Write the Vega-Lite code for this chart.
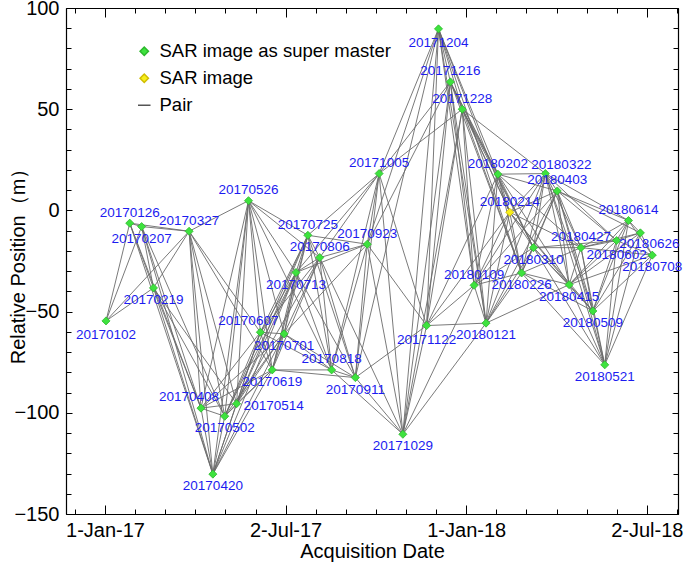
{
  "$schema": "https://vega.github.io/schema/vega-lite/v6.json",
  "autosize": {"type": "none"},
  "padding": {"left": 66, "top": 8, "right": 7, "bottom": 52},
  "width": 612,
  "height": 506,
  "config": {
    "view": {"stroke": null},
    "font": "Liberation Sans",
    "axis": {"grid": false, "domainColor": "black", "domainWidth": 1.2, "tickColor": "black", "tickWidth": 1, "labelColor": "black", "titleColor": "black", "labelFont": "Liberation Sans", "titleFont": "Liberation Sans", "titleFontWeight": "normal"},
    "legend": {"labelLimit": 0}
  },
  "datasets": {
    "pts": [
      {"id": "20170102", "date": "2017-01-02", "pos": -54.6, "kind": "SAR image as super master"},
      {"id": "20170126", "date": "2017-01-26", "pos": -6.3, "kind": "SAR image as super master"},
      {"id": "20170207", "date": "2017-02-07", "pos": -8.0, "kind": "SAR image as super master"},
      {"id": "20170219", "date": "2017-02-19", "pos": -38.3, "kind": "SAR image as super master"},
      {"id": "20170327", "date": "2017-03-27", "pos": -10.3, "kind": "SAR image as super master"},
      {"id": "20170408", "date": "2017-04-08", "pos": -97.7, "kind": "SAR image as super master"},
      {"id": "20170420", "date": "2017-04-20", "pos": -130.3, "kind": "SAR image as super master"},
      {"id": "20170502", "date": "2017-05-02", "pos": -101.7, "kind": "SAR image as super master"},
      {"id": "20170514", "date": "2017-05-14", "pos": -95.5, "kind": "SAR image as super master"},
      {"id": "20170526", "date": "2017-05-26", "pos": 4.8, "kind": "SAR image as super master"},
      {"id": "20170607", "date": "2017-06-07", "pos": -60.2, "kind": "SAR image as super master"},
      {"id": "20170619", "date": "2017-06-19", "pos": -78.8, "kind": "SAR image as super master"},
      {"id": "20170701", "date": "2017-07-01", "pos": -61.0, "kind": "SAR image as super master"},
      {"id": "20170713", "date": "2017-07-13", "pos": -30.7, "kind": "SAR image as super master"},
      {"id": "20170725", "date": "2017-07-25", "pos": -12.3, "kind": "SAR image as super master"},
      {"id": "20170806", "date": "2017-08-06", "pos": -23.3, "kind": "SAR image as super master"},
      {"id": "20170818", "date": "2017-08-18", "pos": -78.8, "kind": "SAR image as super master"},
      {"id": "20170911", "date": "2017-09-11", "pos": -82.6, "kind": "SAR image as super master"},
      {"id": "20170923", "date": "2017-09-23", "pos": -16.7, "kind": "SAR image as super master"},
      {"id": "20171005", "date": "2017-10-05", "pos": 18.2, "kind": "SAR image as super master"},
      {"id": "20171029", "date": "2017-10-29", "pos": -110.6, "kind": "SAR image as super master"},
      {"id": "20171122", "date": "2017-11-22", "pos": -56.9, "kind": "SAR image as super master"},
      {"id": "20171204", "date": "2017-12-04", "pos": 89.7, "kind": "SAR image as super master"},
      {"id": "20171216", "date": "2017-12-16", "pos": 63.5, "kind": "SAR image as super master"},
      {"id": "20171228", "date": "2017-12-28", "pos": 50.0, "kind": "SAR image as super master"},
      {"id": "20180109", "date": "2018-01-09", "pos": -37.0, "kind": "SAR image as super master"},
      {"id": "20180121", "date": "2018-01-21", "pos": -55.7, "kind": "SAR image as super master"},
      {"id": "20180202", "date": "2018-02-02", "pos": 17.9, "kind": "SAR image as super master"},
      {"id": "20180214", "date": "2018-02-14", "pos": -0.9, "kind": "SAR image"},
      {"id": "20180226", "date": "2018-02-26", "pos": -30.9, "kind": "SAR image as super master"},
      {"id": "20180310", "date": "2018-03-10", "pos": -18.4, "kind": "SAR image as super master"},
      {"id": "20180322", "date": "2018-03-22", "pos": 18.2, "kind": "SAR image as super master"},
      {"id": "20180403", "date": "2018-04-03", "pos": 9.6, "kind": "SAR image as super master"},
      {"id": "20180415", "date": "2018-04-15", "pos": -36.7, "kind": "SAR image as super master"},
      {"id": "20180427", "date": "2018-04-27", "pos": -18.4, "kind": "SAR image as super master"},
      {"id": "20180509", "date": "2018-05-09", "pos": -49.7, "kind": "SAR image as super master"},
      {"id": "20180521", "date": "2018-05-21", "pos": -76.3, "kind": "SAR image as super master"},
      {"id": "20180602", "date": "2018-06-02", "pos": -14.9, "kind": "SAR image as super master"},
      {"id": "20180614", "date": "2018-06-14", "pos": -5.0, "kind": "SAR image as super master"},
      {"id": "20180626", "date": "2018-06-26", "pos": -11.1, "kind": "SAR image as super master"},
      {"id": "20180708", "date": "2018-07-08", "pos": -22.1, "kind": "SAR image as super master"}
    ],
    "pairs": [
      {"d1": "2017-01-02", "p1": -54.6, "d2": "2017-01-26", "p2": -6.3},
      {"d1": "2017-01-02", "p1": -54.6, "d2": "2017-02-07", "p2": -8.0},
      {"d1": "2017-01-02", "p1": -54.6, "d2": "2017-02-19", "p2": -38.3},
      {"d1": "2017-01-02", "p1": -54.6, "d2": "2017-03-27", "p2": -10.3},
      {"d1": "2017-01-26", "p1": -6.3, "d2": "2017-02-07", "p2": -8.0},
      {"d1": "2017-01-26", "p1": -6.3, "d2": "2017-02-19", "p2": -38.3},
      {"d1": "2017-01-26", "p1": -6.3, "d2": "2017-03-27", "p2": -10.3},
      {"d1": "2017-01-26", "p1": -6.3, "d2": "2017-04-08", "p2": -97.7},
      {"d1": "2017-01-26", "p1": -6.3, "d2": "2017-04-20", "p2": -130.3},
      {"d1": "2017-02-07", "p1": -8.0, "d2": "2017-02-19", "p2": -38.3},
      {"d1": "2017-02-07", "p1": -8.0, "d2": "2017-03-27", "p2": -10.3},
      {"d1": "2017-02-07", "p1": -8.0, "d2": "2017-04-08", "p2": -97.7},
      {"d1": "2017-02-07", "p1": -8.0, "d2": "2017-04-20", "p2": -130.3},
      {"d1": "2017-02-07", "p1": -8.0, "d2": "2017-05-02", "p2": -101.7},
      {"d1": "2017-02-19", "p1": -38.3, "d2": "2017-03-27", "p2": -10.3},
      {"d1": "2017-02-19", "p1": -38.3, "d2": "2017-04-08", "p2": -97.7},
      {"d1": "2017-02-19", "p1": -38.3, "d2": "2017-04-20", "p2": -130.3},
      {"d1": "2017-02-19", "p1": -38.3, "d2": "2017-05-02", "p2": -101.7},
      {"d1": "2017-02-19", "p1": -38.3, "d2": "2017-05-14", "p2": -95.5},
      {"d1": "2017-03-27", "p1": -10.3, "d2": "2017-04-08", "p2": -97.7},
      {"d1": "2017-03-27", "p1": -10.3, "d2": "2017-04-20", "p2": -130.3},
      {"d1": "2017-03-27", "p1": -10.3, "d2": "2017-05-02", "p2": -101.7},
      {"d1": "2017-03-27", "p1": -10.3, "d2": "2017-05-14", "p2": -95.5},
      {"d1": "2017-03-27", "p1": -10.3, "d2": "2017-05-26", "p2": 4.8},
      {"d1": "2017-03-27", "p1": -10.3, "d2": "2017-06-07", "p2": -60.2},
      {"d1": "2017-03-27", "p1": -10.3, "d2": "2017-06-19", "p2": -78.8},
      {"d1": "2017-04-08", "p1": -97.7, "d2": "2017-04-20", "p2": -130.3},
      {"d1": "2017-04-08", "p1": -97.7, "d2": "2017-05-02", "p2": -101.7},
      {"d1": "2017-04-08", "p1": -97.7, "d2": "2017-05-14", "p2": -95.5},
      {"d1": "2017-04-08", "p1": -97.7, "d2": "2017-05-26", "p2": 4.8},
      {"d1": "2017-04-08", "p1": -97.7, "d2": "2017-06-07", "p2": -60.2},
      {"d1": "2017-04-08", "p1": -97.7, "d2": "2017-06-19", "p2": -78.8},
      {"d1": "2017-04-08", "p1": -97.7, "d2": "2017-07-01", "p2": -61.0},
      {"d1": "2017-04-20", "p1": -130.3, "d2": "2017-05-02", "p2": -101.7},
      {"d1": "2017-04-20", "p1": -130.3, "d2": "2017-05-14", "p2": -95.5},
      {"d1": "2017-04-20", "p1": -130.3, "d2": "2017-05-26", "p2": 4.8},
      {"d1": "2017-04-20", "p1": -130.3, "d2": "2017-06-07", "p2": -60.2},
      {"d1": "2017-04-20", "p1": -130.3, "d2": "2017-06-19", "p2": -78.8},
      {"d1": "2017-04-20", "p1": -130.3, "d2": "2017-07-01", "p2": -61.0},
      {"d1": "2017-04-20", "p1": -130.3, "d2": "2017-07-13", "p2": -30.7},
      {"d1": "2017-05-02", "p1": -101.7, "d2": "2017-05-14", "p2": -95.5},
      {"d1": "2017-05-02", "p1": -101.7, "d2": "2017-05-26", "p2": 4.8},
      {"d1": "2017-05-02", "p1": -101.7, "d2": "2017-06-07", "p2": -60.2},
      {"d1": "2017-05-02", "p1": -101.7, "d2": "2017-06-19", "p2": -78.8},
      {"d1": "2017-05-02", "p1": -101.7, "d2": "2017-07-01", "p2": -61.0},
      {"d1": "2017-05-02", "p1": -101.7, "d2": "2017-07-13", "p2": -30.7},
      {"d1": "2017-05-02", "p1": -101.7, "d2": "2017-07-25", "p2": -12.3},
      {"d1": "2017-05-14", "p1": -95.5, "d2": "2017-05-26", "p2": 4.8},
      {"d1": "2017-05-14", "p1": -95.5, "d2": "2017-06-07", "p2": -60.2},
      {"d1": "2017-05-14", "p1": -95.5, "d2": "2017-06-19", "p2": -78.8},
      {"d1": "2017-05-14", "p1": -95.5, "d2": "2017-07-01", "p2": -61.0},
      {"d1": "2017-05-14", "p1": -95.5, "d2": "2017-07-13", "p2": -30.7},
      {"d1": "2017-05-14", "p1": -95.5, "d2": "2017-07-25", "p2": -12.3},
      {"d1": "2017-05-14", "p1": -95.5, "d2": "2017-08-06", "p2": -23.3},
      {"d1": "2017-05-26", "p1": 4.8, "d2": "2017-06-07", "p2": -60.2},
      {"d1": "2017-05-26", "p1": 4.8, "d2": "2017-06-19", "p2": -78.8},
      {"d1": "2017-05-26", "p1": 4.8, "d2": "2017-07-01", "p2": -61.0},
      {"d1": "2017-05-26", "p1": 4.8, "d2": "2017-07-13", "p2": -30.7},
      {"d1": "2017-05-26", "p1": 4.8, "d2": "2017-07-25", "p2": -12.3},
      {"d1": "2017-05-26", "p1": 4.8, "d2": "2017-08-06", "p2": -23.3},
      {"d1": "2017-05-26", "p1": 4.8, "d2": "2017-08-18", "p2": -78.8},
      {"d1": "2017-06-07", "p1": -60.2, "d2": "2017-06-19", "p2": -78.8},
      {"d1": "2017-06-07", "p1": -60.2, "d2": "2017-07-01", "p2": -61.0},
      {"d1": "2017-06-07", "p1": -60.2, "d2": "2017-07-13", "p2": -30.7},
      {"d1": "2017-06-07", "p1": -60.2, "d2": "2017-07-25", "p2": -12.3},
      {"d1": "2017-06-07", "p1": -60.2, "d2": "2017-08-06", "p2": -23.3},
      {"d1": "2017-06-07", "p1": -60.2, "d2": "2017-08-18", "p2": -78.8},
      {"d1": "2017-06-19", "p1": -78.8, "d2": "2017-07-01", "p2": -61.0},
      {"d1": "2017-06-19", "p1": -78.8, "d2": "2017-07-13", "p2": -30.7},
      {"d1": "2017-06-19", "p1": -78.8, "d2": "2017-07-25", "p2": -12.3},
      {"d1": "2017-06-19", "p1": -78.8, "d2": "2017-08-06", "p2": -23.3},
      {"d1": "2017-06-19", "p1": -78.8, "d2": "2017-08-18", "p2": -78.8},
      {"d1": "2017-06-19", "p1": -78.8, "d2": "2017-09-11", "p2": -82.6},
      {"d1": "2017-07-01", "p1": -61.0, "d2": "2017-07-13", "p2": -30.7},
      {"d1": "2017-07-01", "p1": -61.0, "d2": "2017-07-25", "p2": -12.3},
      {"d1": "2017-07-01", "p1": -61.0, "d2": "2017-08-06", "p2": -23.3},
      {"d1": "2017-07-01", "p1": -61.0, "d2": "2017-08-18", "p2": -78.8},
      {"d1": "2017-07-01", "p1": -61.0, "d2": "2017-09-11", "p2": -82.6},
      {"d1": "2017-07-01", "p1": -61.0, "d2": "2017-09-23", "p2": -16.7},
      {"d1": "2017-07-13", "p1": -30.7, "d2": "2017-07-25", "p2": -12.3},
      {"d1": "2017-07-13", "p1": -30.7, "d2": "2017-08-06", "p2": -23.3},
      {"d1": "2017-07-13", "p1": -30.7, "d2": "2017-08-18", "p2": -78.8},
      {"d1": "2017-07-13", "p1": -30.7, "d2": "2017-09-11", "p2": -82.6},
      {"d1": "2017-07-13", "p1": -30.7, "d2": "2017-09-23", "p2": -16.7},
      {"d1": "2017-07-13", "p1": -30.7, "d2": "2017-10-05", "p2": 18.2},
      {"d1": "2017-07-25", "p1": -12.3, "d2": "2017-08-06", "p2": -23.3},
      {"d1": "2017-07-25", "p1": -12.3, "d2": "2017-08-18", "p2": -78.8},
      {"d1": "2017-07-25", "p1": -12.3, "d2": "2017-09-11", "p2": -82.6},
      {"d1": "2017-07-25", "p1": -12.3, "d2": "2017-09-23", "p2": -16.7},
      {"d1": "2017-07-25", "p1": -12.3, "d2": "2017-10-05", "p2": 18.2},
      {"d1": "2017-08-06", "p1": -23.3, "d2": "2017-08-18", "p2": -78.8},
      {"d1": "2017-08-06", "p1": -23.3, "d2": "2017-09-11", "p2": -82.6},
      {"d1": "2017-08-06", "p1": -23.3, "d2": "2017-09-23", "p2": -16.7},
      {"d1": "2017-08-06", "p1": -23.3, "d2": "2017-10-05", "p2": 18.2},
      {"d1": "2017-08-06", "p1": -23.3, "d2": "2017-10-29", "p2": -110.6},
      {"d1": "2017-08-18", "p1": -78.8, "d2": "2017-09-11", "p2": -82.6},
      {"d1": "2017-08-18", "p1": -78.8, "d2": "2017-09-23", "p2": -16.7},
      {"d1": "2017-08-18", "p1": -78.8, "d2": "2017-10-05", "p2": 18.2},
      {"d1": "2017-08-18", "p1": -78.8, "d2": "2017-10-29", "p2": -110.6},
      {"d1": "2017-09-11", "p1": -82.6, "d2": "2017-09-23", "p2": -16.7},
      {"d1": "2017-09-11", "p1": -82.6, "d2": "2017-10-05", "p2": 18.2},
      {"d1": "2017-09-11", "p1": -82.6, "d2": "2017-10-29", "p2": -110.6},
      {"d1": "2017-09-11", "p1": -82.6, "d2": "2017-11-22", "p2": -56.9},
      {"d1": "2017-09-11", "p1": -82.6, "d2": "2017-12-04", "p2": 89.7},
      {"d1": "2017-09-23", "p1": -16.7, "d2": "2017-10-05", "p2": 18.2},
      {"d1": "2017-09-23", "p1": -16.7, "d2": "2017-10-29", "p2": -110.6},
      {"d1": "2017-09-23", "p1": -16.7, "d2": "2017-11-22", "p2": -56.9},
      {"d1": "2017-09-23", "p1": -16.7, "d2": "2017-12-04", "p2": 89.7},
      {"d1": "2017-09-23", "p1": -16.7, "d2": "2017-12-16", "p2": 63.5},
      {"d1": "2017-10-05", "p1": 18.2, "d2": "2017-10-29", "p2": -110.6},
      {"d1": "2017-10-05", "p1": 18.2, "d2": "2017-11-22", "p2": -56.9},
      {"d1": "2017-10-05", "p1": 18.2, "d2": "2017-12-04", "p2": 89.7},
      {"d1": "2017-10-05", "p1": 18.2, "d2": "2017-12-16", "p2": 63.5},
      {"d1": "2017-10-05", "p1": 18.2, "d2": "2017-12-28", "p2": 50.0},
      {"d1": "2017-10-29", "p1": -110.6, "d2": "2017-11-22", "p2": -56.9},
      {"d1": "2017-10-29", "p1": -110.6, "d2": "2017-12-04", "p2": 89.7},
      {"d1": "2017-10-29", "p1": -110.6, "d2": "2017-12-16", "p2": 63.5},
      {"d1": "2017-10-29", "p1": -110.6, "d2": "2017-12-28", "p2": 50.0},
      {"d1": "2017-10-29", "p1": -110.6, "d2": "2018-01-09", "p2": -37.0},
      {"d1": "2017-10-29", "p1": -110.6, "d2": "2018-01-21", "p2": -55.7},
      {"d1": "2017-11-22", "p1": -56.9, "d2": "2017-12-04", "p2": 89.7},
      {"d1": "2017-11-22", "p1": -56.9, "d2": "2017-12-16", "p2": 63.5},
      {"d1": "2017-11-22", "p1": -56.9, "d2": "2017-12-28", "p2": 50.0},
      {"d1": "2017-11-22", "p1": -56.9, "d2": "2018-01-09", "p2": -37.0},
      {"d1": "2017-11-22", "p1": -56.9, "d2": "2018-01-21", "p2": -55.7},
      {"d1": "2017-11-22", "p1": -56.9, "d2": "2018-02-02", "p2": 17.9},
      {"d1": "2017-11-22", "p1": -56.9, "d2": "2018-02-14", "p2": -0.9},
      {"d1": "2017-12-04", "p1": 89.7, "d2": "2017-12-16", "p2": 63.5},
      {"d1": "2017-12-04", "p1": 89.7, "d2": "2017-12-28", "p2": 50.0},
      {"d1": "2017-12-04", "p1": 89.7, "d2": "2018-01-09", "p2": -37.0},
      {"d1": "2017-12-04", "p1": 89.7, "d2": "2018-01-21", "p2": -55.7},
      {"d1": "2017-12-04", "p1": 89.7, "d2": "2018-02-02", "p2": 17.9},
      {"d1": "2017-12-04", "p1": 89.7, "d2": "2018-02-14", "p2": -0.9},
      {"d1": "2017-12-04", "p1": 89.7, "d2": "2018-02-26", "p2": -30.9},
      {"d1": "2017-12-16", "p1": 63.5, "d2": "2017-12-28", "p2": 50.0},
      {"d1": "2017-12-16", "p1": 63.5, "d2": "2018-01-09", "p2": -37.0},
      {"d1": "2017-12-16", "p1": 63.5, "d2": "2018-01-21", "p2": -55.7},
      {"d1": "2017-12-16", "p1": 63.5, "d2": "2018-02-02", "p2": 17.9},
      {"d1": "2017-12-16", "p1": 63.5, "d2": "2018-02-14", "p2": -0.9},
      {"d1": "2017-12-16", "p1": 63.5, "d2": "2018-02-26", "p2": -30.9},
      {"d1": "2017-12-16", "p1": 63.5, "d2": "2018-03-10", "p2": -18.4},
      {"d1": "2017-12-28", "p1": 50.0, "d2": "2018-01-09", "p2": -37.0},
      {"d1": "2017-12-28", "p1": 50.0, "d2": "2018-01-21", "p2": -55.7},
      {"d1": "2017-12-28", "p1": 50.0, "d2": "2018-02-02", "p2": 17.9},
      {"d1": "2017-12-28", "p1": 50.0, "d2": "2018-02-14", "p2": -0.9},
      {"d1": "2017-12-28", "p1": 50.0, "d2": "2018-02-26", "p2": -30.9},
      {"d1": "2017-12-28", "p1": 50.0, "d2": "2018-03-10", "p2": -18.4},
      {"d1": "2017-12-28", "p1": 50.0, "d2": "2018-03-22", "p2": 18.2},
      {"d1": "2018-01-09", "p1": -37.0, "d2": "2018-01-21", "p2": -55.7},
      {"d1": "2018-01-09", "p1": -37.0, "d2": "2018-02-02", "p2": 17.9},
      {"d1": "2018-01-09", "p1": -37.0, "d2": "2018-02-14", "p2": -0.9},
      {"d1": "2018-01-09", "p1": -37.0, "d2": "2018-02-26", "p2": -30.9},
      {"d1": "2018-01-09", "p1": -37.0, "d2": "2018-03-10", "p2": -18.4},
      {"d1": "2018-01-09", "p1": -37.0, "d2": "2018-03-22", "p2": 18.2},
      {"d1": "2018-01-09", "p1": -37.0, "d2": "2018-04-03", "p2": 9.6},
      {"d1": "2018-01-21", "p1": -55.7, "d2": "2018-02-02", "p2": 17.9},
      {"d1": "2018-01-21", "p1": -55.7, "d2": "2018-02-14", "p2": -0.9},
      {"d1": "2018-01-21", "p1": -55.7, "d2": "2018-02-26", "p2": -30.9},
      {"d1": "2018-01-21", "p1": -55.7, "d2": "2018-03-10", "p2": -18.4},
      {"d1": "2018-01-21", "p1": -55.7, "d2": "2018-03-22", "p2": 18.2},
      {"d1": "2018-01-21", "p1": -55.7, "d2": "2018-04-03", "p2": 9.6},
      {"d1": "2018-01-21", "p1": -55.7, "d2": "2018-04-15", "p2": -36.7},
      {"d1": "2018-02-02", "p1": 17.9, "d2": "2018-02-14", "p2": -0.9},
      {"d1": "2018-02-02", "p1": 17.9, "d2": "2018-02-26", "p2": -30.9},
      {"d1": "2018-02-02", "p1": 17.9, "d2": "2018-03-10", "p2": -18.4},
      {"d1": "2018-02-02", "p1": 17.9, "d2": "2018-03-22", "p2": 18.2},
      {"d1": "2018-02-02", "p1": 17.9, "d2": "2018-04-03", "p2": 9.6},
      {"d1": "2018-02-02", "p1": 17.9, "d2": "2018-04-15", "p2": -36.7},
      {"d1": "2018-02-02", "p1": 17.9, "d2": "2018-04-27", "p2": -18.4},
      {"d1": "2018-02-14", "p1": -0.9, "d2": "2018-02-26", "p2": -30.9},
      {"d1": "2018-02-14", "p1": -0.9, "d2": "2018-03-10", "p2": -18.4},
      {"d1": "2018-02-14", "p1": -0.9, "d2": "2018-03-22", "p2": 18.2},
      {"d1": "2018-02-14", "p1": -0.9, "d2": "2018-04-03", "p2": 9.6},
      {"d1": "2018-02-14", "p1": -0.9, "d2": "2018-04-15", "p2": -36.7},
      {"d1": "2018-02-14", "p1": -0.9, "d2": "2018-04-27", "p2": -18.4},
      {"d1": "2018-02-14", "p1": -0.9, "d2": "2018-05-09", "p2": -49.7},
      {"d1": "2018-02-26", "p1": -30.9, "d2": "2018-03-10", "p2": -18.4},
      {"d1": "2018-02-26", "p1": -30.9, "d2": "2018-03-22", "p2": 18.2},
      {"d1": "2018-02-26", "p1": -30.9, "d2": "2018-04-03", "p2": 9.6},
      {"d1": "2018-02-26", "p1": -30.9, "d2": "2018-04-15", "p2": -36.7},
      {"d1": "2018-02-26", "p1": -30.9, "d2": "2018-04-27", "p2": -18.4},
      {"d1": "2018-02-26", "p1": -30.9, "d2": "2018-05-09", "p2": -49.7},
      {"d1": "2018-02-26", "p1": -30.9, "d2": "2018-05-21", "p2": -76.3},
      {"d1": "2018-03-10", "p1": -18.4, "d2": "2018-03-22", "p2": 18.2},
      {"d1": "2018-03-10", "p1": -18.4, "d2": "2018-04-03", "p2": 9.6},
      {"d1": "2018-03-10", "p1": -18.4, "d2": "2018-04-15", "p2": -36.7},
      {"d1": "2018-03-10", "p1": -18.4, "d2": "2018-04-27", "p2": -18.4},
      {"d1": "2018-03-10", "p1": -18.4, "d2": "2018-05-09", "p2": -49.7},
      {"d1": "2018-03-10", "p1": -18.4, "d2": "2018-05-21", "p2": -76.3},
      {"d1": "2018-03-10", "p1": -18.4, "d2": "2018-06-02", "p2": -14.9},
      {"d1": "2018-03-22", "p1": 18.2, "d2": "2018-04-03", "p2": 9.6},
      {"d1": "2018-03-22", "p1": 18.2, "d2": "2018-04-15", "p2": -36.7},
      {"d1": "2018-03-22", "p1": 18.2, "d2": "2018-04-27", "p2": -18.4},
      {"d1": "2018-03-22", "p1": 18.2, "d2": "2018-05-09", "p2": -49.7},
      {"d1": "2018-03-22", "p1": 18.2, "d2": "2018-05-21", "p2": -76.3},
      {"d1": "2018-03-22", "p1": 18.2, "d2": "2018-06-02", "p2": -14.9},
      {"d1": "2018-03-22", "p1": 18.2, "d2": "2018-06-14", "p2": -5.0},
      {"d1": "2018-04-03", "p1": 9.6, "d2": "2018-04-15", "p2": -36.7},
      {"d1": "2018-04-03", "p1": 9.6, "d2": "2018-04-27", "p2": -18.4},
      {"d1": "2018-04-03", "p1": 9.6, "d2": "2018-05-09", "p2": -49.7},
      {"d1": "2018-04-03", "p1": 9.6, "d2": "2018-05-21", "p2": -76.3},
      {"d1": "2018-04-03", "p1": 9.6, "d2": "2018-06-02", "p2": -14.9},
      {"d1": "2018-04-03", "p1": 9.6, "d2": "2018-06-14", "p2": -5.0},
      {"d1": "2018-04-03", "p1": 9.6, "d2": "2018-06-26", "p2": -11.1},
      {"d1": "2018-04-15", "p1": -36.7, "d2": "2018-04-27", "p2": -18.4},
      {"d1": "2018-04-15", "p1": -36.7, "d2": "2018-05-09", "p2": -49.7},
      {"d1": "2018-04-15", "p1": -36.7, "d2": "2018-05-21", "p2": -76.3},
      {"d1": "2018-04-15", "p1": -36.7, "d2": "2018-06-02", "p2": -14.9},
      {"d1": "2018-04-15", "p1": -36.7, "d2": "2018-06-14", "p2": -5.0},
      {"d1": "2018-04-15", "p1": -36.7, "d2": "2018-06-26", "p2": -11.1},
      {"d1": "2018-04-15", "p1": -36.7, "d2": "2018-07-08", "p2": -22.1},
      {"d1": "2018-04-27", "p1": -18.4, "d2": "2018-05-09", "p2": -49.7},
      {"d1": "2018-04-27", "p1": -18.4, "d2": "2018-05-21", "p2": -76.3},
      {"d1": "2018-04-27", "p1": -18.4, "d2": "2018-06-02", "p2": -14.9},
      {"d1": "2018-04-27", "p1": -18.4, "d2": "2018-06-14", "p2": -5.0},
      {"d1": "2018-04-27", "p1": -18.4, "d2": "2018-06-26", "p2": -11.1},
      {"d1": "2018-04-27", "p1": -18.4, "d2": "2018-07-08", "p2": -22.1},
      {"d1": "2018-05-09", "p1": -49.7, "d2": "2018-05-21", "p2": -76.3},
      {"d1": "2018-05-09", "p1": -49.7, "d2": "2018-06-02", "p2": -14.9},
      {"d1": "2018-05-09", "p1": -49.7, "d2": "2018-06-14", "p2": -5.0},
      {"d1": "2018-05-09", "p1": -49.7, "d2": "2018-06-26", "p2": -11.1},
      {"d1": "2018-05-09", "p1": -49.7, "d2": "2018-07-08", "p2": -22.1},
      {"d1": "2018-05-21", "p1": -76.3, "d2": "2018-06-02", "p2": -14.9},
      {"d1": "2018-05-21", "p1": -76.3, "d2": "2018-06-14", "p2": -5.0},
      {"d1": "2018-05-21", "p1": -76.3, "d2": "2018-06-26", "p2": -11.1},
      {"d1": "2018-05-21", "p1": -76.3, "d2": "2018-07-08", "p2": -22.1},
      {"d1": "2018-06-02", "p1": -14.9, "d2": "2018-06-14", "p2": -5.0},
      {"d1": "2018-06-02", "p1": -14.9, "d2": "2018-06-26", "p2": -11.1},
      {"d1": "2018-06-02", "p1": -14.9, "d2": "2018-07-08", "p2": -22.1},
      {"d1": "2018-06-14", "p1": -5.0, "d2": "2018-06-26", "p2": -11.1},
      {"d1": "2018-06-14", "p1": -5.0, "d2": "2018-07-08", "p2": -22.1},
      {"d1": "2018-06-26", "p1": -11.1, "d2": "2018-07-08", "p2": -22.1}
    ]
  },
  "resolve": {"axis": {"x": "independent", "y": "independent"}},
  "layer": [
    {
      "data": {"name": "pairs"},
      "mark": {"type": "rule", "stroke": "#6b6b6b", "strokeWidth": 0.9},
      "encoding": {
        "x": {"field": "d1", "type": "temporal", "scale": {"type": "utc", "domain": [1479823776000, 1533256128000], "nice": false},
          "axis": {"orient": "bottom", "values": [1483228800000, 1498996800000, 1514764800000, 1530532800000], "format": "%-d-%b-%y", "tickSize": -9, "labelPadding": 15, "labelFontSize": 20, "labelFlush": false, "labelOverlap": false, "title": "Acquisition Date", "titleFontSize": 20, "titlePadding": 1}},
        "y": {"field": "p1", "type": "quantitative", "scale": {"domain": [-150, 100], "nice": false, "zero": false},
          "axis": {"orient": "left", "values": [-150, -100, -50, 0, 50, 100], "tickSize": -6, "labelPadding": 13, "labelFontSize": 20, "labelFlush": false, "labelOverlap": false, "title": "Relative Position（m）", "titleFontSize": 20, "titleX": -38, "titleY": 253}},
        "x2": {"field": "d2"},
        "y2": {"field": "p2"}
      }
    },
    {
      "data": {"name": "pts"},
      "mark": {"type": "point", "filled": true, "size": 65, "strokeWidth": 0.8, "opacity": 1},
      "encoding": {
        "x": {"field": "date", "type": "temporal", "scale": {"type": "utc", "domain": [1479823776000, 1533256128000], "nice": false},
          "axis": {"orient": "bottom", "values": [1480600800000, 1483228800000, 1485856800000, 1488484800000, 1491112800000, 1493740800000, 1496368800000, 1498996800000, 1501624800000, 1504252800000, 1506880800000, 1509508800000, 1512136800000, 1514764800000, 1517392800000, 1520020800000, 1522648800000, 1525276800000, 1527904800000, 1530532800000, 1533160800000], "tickSize": -5, "labels": false, "domain": false, "title": null}},
        "y": {"field": "pos", "type": "quantitative", "scale": {"domain": [-150, 100], "nice": false, "zero": false},
          "axis": {"orient": "left", "values": [-150, -140, -130, -120, -110, -100, -90, -80, -70, -60, -50, -40, -30, -20, -10, 0, 10, 20, 30, 40, 50, 60, 70, 80, 90, 100], "tickSize": -5, "labels": false, "domain": false, "title": null}},
        "fill": {"field": "kind", "type": "nominal", "scale": {"domain": ["SAR image as super master", "SAR image", "Pair"], "range": ["#3ee23e", "#f7ee1b", "#ffffff"]},
          "legend": {"orient": "none", "legendX": 69, "legendY": 34, "title": null, "labelFontSize": 18.5, "labelFont": "Liberation Sans", "labelColor": "black", "labelLimit": 0, "symbolSize": 70, "rowPadding": 8, "labelOffset": 6, "padding": 0}},
        "stroke": {"field": "kind", "type": "nominal", "scale": {"domain": ["SAR image as super master", "SAR image", "Pair"], "range": ["#2cb82c", "#d0bd00", "#555555"]},
          "legend": {"orient": "none", "legendX": 69, "legendY": 34, "title": null, "labelFontSize": 18.5, "labelFont": "Liberation Sans", "labelColor": "black", "labelLimit": 0, "symbolSize": 70, "rowPadding": 8, "labelOffset": 6, "padding": 0}},
        "shape": {"field": "kind", "type": "nominal", "scale": {"domain": ["SAR image as super master", "SAR image", "Pair"], "range": ["diamond", "diamond", "M-1.5,0H1.5"]},
          "legend": {"orient": "none", "legendX": 69, "legendY": 34, "title": null, "labelFontSize": 18.5, "labelFont": "Liberation Sans", "labelColor": "black", "labelLimit": 0, "symbolSize": 70, "rowPadding": 8, "labelOffset": 6, "padding": 0}}
      }
    },
    {
      "data": {"name": "pts"},
      "transform": [{"filter": {"field": "id", "oneOf": ["20170126", "20170327", "20170526", "20170725", "20170806", "20170818", "20170923", "20171005", "20171216", "20171228", "20180109", "20180202", "20180214", "20180403", "20180427", "20180614"]}}],
      "mark": {"type": "text", "fontSize": 13.5, "font": "Liberation Sans", "fill": "#1c1cf0", "dy": -10.5},
      "encoding": {
        "x": {"field": "date", "type": "temporal", "scale": {"type": "utc", "domain": [1479823776000, 1533256128000], "nice": false},
          "axis": {"orient": "top", "values": [1483228800000, 1498996800000, 1514764800000, 1530532800000], "tickSize": -9, "labels": false, "title": null}},
        "y": {"field": "pos", "type": "quantitative", "scale": {"domain": [-150, 100], "nice": false, "zero": false},
          "axis": {"orient": "right", "values": [-150, -100, -50, 0, 50, 100], "tickSize": -6, "labels": false, "title": null}},
        "text": {"field": "id"}
      }
    },
    {
      "data": {"name": "pts"},
      "transform": [{"filter": {"field": "id", "oneOf": ["20170207", "20170219", "20170420", "20170502", "20170619", "20170701", "20170713", "20170911", "20171029", "20180121", "20180226", "20180310", "20180415", "20180509", "20180521", "20180708"]}}],
      "mark": {"type": "text", "fontSize": 13.5, "font": "Liberation Sans", "fill": "#1c1cf0", "dy": 12},
      "encoding": {
        "x": {"field": "date", "type": "temporal", "scale": {"type": "utc", "domain": [1479823776000, 1533256128000], "nice": false},
          "axis": {"orient": "top", "values": [1480600800000, 1483228800000, 1485856800000, 1488484800000, 1491112800000, 1493740800000, 1496368800000, 1498996800000, 1501624800000, 1504252800000, 1506880800000, 1509508800000, 1512136800000, 1514764800000, 1517392800000, 1520020800000, 1522648800000, 1525276800000, 1527904800000, 1530532800000, 1533160800000], "tickSize": -5, "labels": false, "domain": false, "title": null}},
        "y": {"field": "pos", "type": "quantitative", "scale": {"domain": [-150, 100], "nice": false, "zero": false},
          "axis": {"orient": "right", "values": [-150, -140, -130, -120, -110, -100, -90, -80, -70, -60, -50, -40, -30, -20, -10, 0, 10, 20, 30, 40, 50, 60, 70, 80, 90, 100], "tickSize": -5, "labels": false, "domain": false, "title": null}},
        "text": {"field": "id"}
      }
    },
    {
      "data": {"name": "pts"},
      "transform": [{"filter": {"field": "id", "oneOf": ["20170102", "20171122", "20171204", "20180602"]}}],
      "mark": {"type": "text", "fontSize": 13.5, "font": "Liberation Sans", "fill": "#1c1cf0", "dy": 14},
      "encoding": {
        "x": {"field": "date", "type": "temporal", "axis": null},
        "y": {"field": "pos", "type": "quantitative", "axis": null},
        "text": {"field": "id"}
      }
    },
    {
      "data": {"name": "pts"},
      "transform": [{"filter": {"field": "id", "oneOf": ["20170408", "20170607"]}}],
      "mark": {"type": "text", "fontSize": 13.5, "font": "Liberation Sans", "fill": "#1c1cf0", "dx": -12, "dy": -11},
      "encoding": {
        "x": {"field": "date", "type": "temporal", "axis": null},
        "y": {"field": "pos", "type": "quantitative", "axis": null},
        "text": {"field": "id"}
      }
    },
    {
      "data": {"name": "pts"},
      "transform": [{"filter": {"field": "id", "equal": "20180322"}}],
      "mark": {"type": "text", "fontSize": 13.5, "font": "Liberation Sans", "fill": "#1c1cf0", "dx": 16, "dy": -9},
      "encoding": {
        "x": {"field": "date", "type": "temporal", "axis": null},
        "y": {"field": "pos", "type": "quantitative", "axis": null},
        "text": {"field": "id"}
      }
    },
    {
      "data": {"name": "pts"},
      "transform": [{"filter": {"field": "id", "equal": "20180626"}}],
      "mark": {"type": "text", "fontSize": 13.5, "font": "Liberation Sans", "fill": "#1c1cf0", "dx": 9, "dy": 11},
      "encoding": {
        "x": {"field": "date", "type": "temporal", "axis": null},
        "y": {"field": "pos", "type": "quantitative", "axis": null},
        "text": {"field": "id"}
      }
    },
    {
      "data": {"name": "pts"},
      "transform": [{"filter": {"field": "id", "equal": "20170514"}}],
      "mark": {"type": "text", "fontSize": 13.5, "font": "Liberation Sans", "fill": "#1c1cf0", "align": "left", "dx": 7, "dy": 2},
      "encoding": {
        "x": {"field": "date", "type": "temporal", "axis": null},
        "y": {"field": "pos", "type": "quantitative", "axis": null},
        "text": {"field": "id"}
      }
    }
  ]
}
